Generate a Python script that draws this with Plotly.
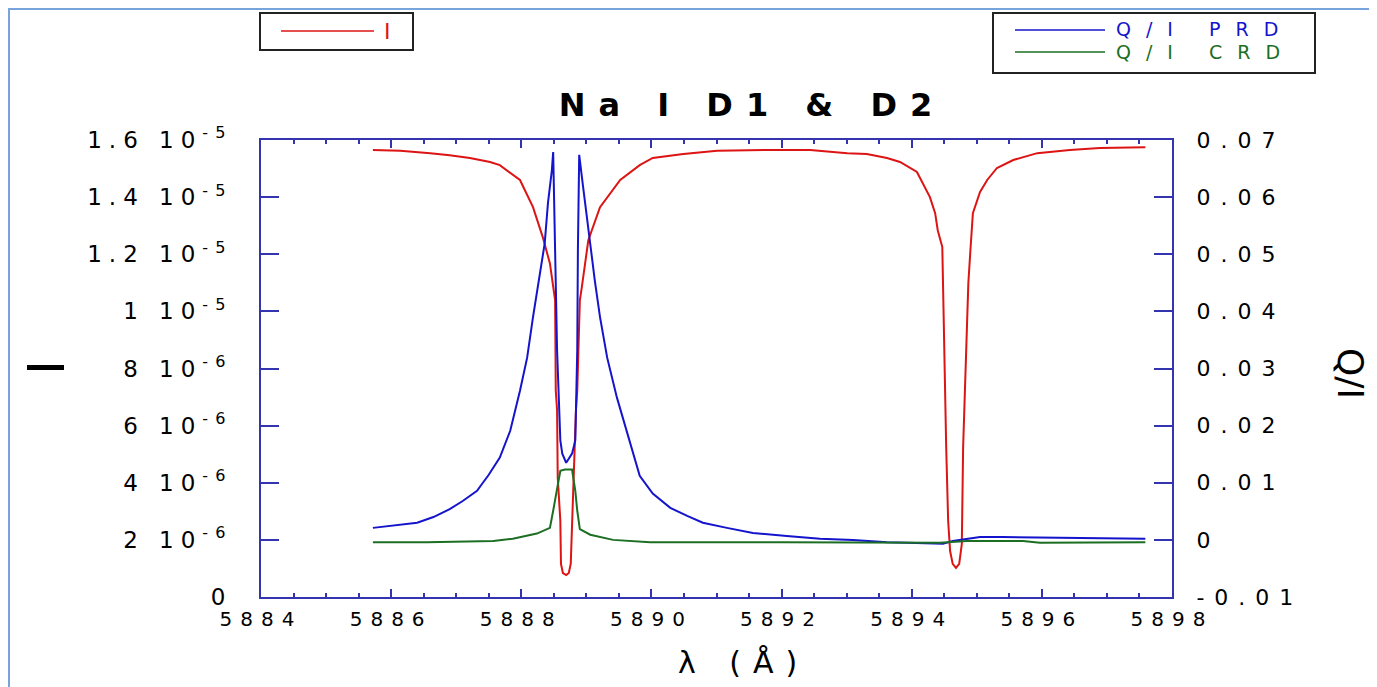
import plotly.graph_objects as go

# ---------------- data ----------------
# Intensity I (left axis)
wl_I = [5885.72, 5886.14, 5886.60, 5886.90, 5887.21, 5887.52, 5887.67, 5887.98, 5888.18, 5888.33,
        5888.44, 5888.49, 5888.52, 5888.53, 5888.55, 5888.56, 5888.60, 5888.61, 5888.64, 5888.69,
        5888.73, 5888.76, 5888.78, 5888.81, 5888.84, 5888.86, 5888.90, 5888.93, 5889.03, 5889.21,
        5889.52, 5889.82, 5890.02, 5890.49, 5891.01, 5891.78, 5892.44, 5893.01, 5893.31, 5893.62,
        5893.82, 5894.08, 5894.17, 5894.28, 5894.36, 5894.40, 5894.47, 5894.48, 5894.50, 5894.53,
        5894.56, 5894.59, 5894.63, 5894.68, 5894.73, 5894.77, 5894.79, 5894.83, 5894.87, 5894.90,
        5894.94, 5895.05, 5895.16, 5895.31, 5895.56, 5895.93, 5896.43, 5896.89, 5897.59]
intensity = [15.65e-6, 15.62e-6, 15.54e-6, 15.47e-6, 15.37e-6, 15.23e-6, 15.12e-6, 14.60e-6, 13.65e-6, 12.60e-6,
             11.68e-6, 10.84e-6, 10.39e-6, 7.23e-6, 6.53e-6, 4.18e-6, 2.67e-6, 1.16e-6, 0.84e-6, 0.77e-6,
             0.84e-6, 1.16e-6, 2.67e-6, 4.18e-6, 6.53e-6, 7.23e-6, 10.39e-6, 10.84e-6, 12.49e-6, 13.65e-6,
             14.60e-6, 15.12e-6, 15.37e-6, 15.51e-6, 15.62e-6, 15.65e-6, 15.65e-6, 15.54e-6, 15.51e-6, 15.37e-6,
             15.23e-6, 14.88e-6, 14.49e-6, 14.00e-6, 13.44e-6, 12.84e-6, 12.25e-6, 10.98e-6, 8.39e-6, 5.23e-6,
             2.67e-6, 1.61e-6, 1.16e-6, 1.02e-6, 1.16e-6, 1.86e-6, 5.23e-6, 8.39e-6, 10.98e-6, 12.07e-6,
             13.44e-6, 14.18e-6, 14.60e-6, 15.02e-6, 15.30e-6, 15.54e-6, 15.65e-6, 15.72e-6, 15.75e-6]

# Q/I with partial redistribution (right axis)
wl_prd = [5885.72, 5886.06, 5886.40, 5886.65, 5886.90, 5887.10, 5887.32, 5887.41, 5887.50, 5887.67,
          5887.83, 5887.98, 5888.09, 5888.18, 5888.29, 5888.36, 5888.41, 5888.47, 5888.49, 5888.52,
          5888.55, 5888.60, 5888.63, 5888.69, 5888.78, 5888.83, 5888.86, 5888.87, 5888.89, 5888.95,
          5889.03, 5889.13, 5889.21, 5889.32, 5889.47, 5889.62, 5889.78, 5889.82, 5890.02, 5890.29,
          5890.55, 5890.79, 5891.16, 5891.56, 5892.08, 5892.59, 5893.10, 5893.62, 5893.93, 5894.33,
          5894.48, 5894.63, 5894.85, 5895.05, 5895.40, 5895.97, 5896.89, 5897.59]
q_prd = [0.0021, 0.0025, 0.0030, 0.0040, 0.0054, 0.0068, 0.0086, 0.0100, 0.0114, 0.0144,
         0.0191, 0.0261, 0.0319, 0.0390, 0.0472, 0.0519, 0.0590, 0.0647, 0.0679, 0.0507,
         0.0332, 0.0174, 0.0151, 0.0135, 0.0151, 0.0174, 0.0332, 0.0507, 0.0674, 0.0618,
         0.0542, 0.0454, 0.0390, 0.0319, 0.0249, 0.0191, 0.0128, 0.0112, 0.0081, 0.0056,
         0.0042, 0.0030, 0.0021, 0.0012, 0.0007, 0.0002, 0.0000, -0.0004, -0.0005, -0.0007,
         -0.0007, -0.0002, 0.0002, 0.0005, 0.0005, 0.0004, 0.0002, 0.0002]

# Q/I with complete redistribution (right axis)
wl_crd = [5885.72, 5886.55, 5887.57, 5887.87, 5888.24, 5888.44, 5888.49, 5888.55, 5888.60, 5888.67,
          5888.78, 5888.83, 5888.86, 5888.90, 5889.06, 5889.41, 5889.98, 5892.00, 5894.43, 5894.85,
          5895.71, 5895.97, 5897.59]
q_crd = [-0.0004, -0.0004, -0.0002, 0.0002, 0.0011, 0.0021, 0.0051, 0.0086, 0.0121, 0.0123,
         0.0123, 0.0086, 0.0051, 0.0019, 0.0009, 0.0000, -0.0004, -0.0004, -0.0005, -0.0002,
         -0.0002, -0.0005, -0.0004]

# tick labels
x_tickvals = [5884, 5886, 5888, 5890, 5892, 5894, 5896, 5898]
x_ticklabels = ["5884", "5886", "5888", "5890", "5892", "5894", "5896", "5898"]
y_tickvals = [0, 2e-6, 4e-6, 6e-6, 8e-6, 1e-5, 1.2e-5, 1.4e-5, 1.6e-5]
y_ticklabels = ["0", "2 10<sup>-6</sup>", "4 10<sup>-6</sup>", "6 10<sup>-6</sup>", "8 10<sup>-6</sup>",
                "1 10<sup>-5</sup>", "1.2 10<sup>-5</sup>", "1.4 10<sup>-5</sup>", "1.6 10<sup>-5</sup>"]
y2_tickvals = [-0.01, 0, 0.01, 0.02, 0.03, 0.04, 0.05, 0.06, 0.07]
y2_ticklabels = ["-0.01", "0", "0.01", "0.02", "0.03", "0.04", "0.05", "0.06", "0.07"]

series_names = ["I", "Q/I PRD", "Q/I CRD"]

# ---------------- style ----------------
FONT = "DejaVu Sans, Liberation Sans, Arial, sans-serif"
RED = "#dd1414"
BLUE = "#1414cc"
GREEN = "#1c6e22"
AXC = "#3434b0"
PINK = "#fddaf4"
BORDER = "#78a4de"

# page pixels -> paper coords (page is offset by 8px body margin)
L, R, T, B = 261, 1172, 140, 597


def PX(xp):
    return (xp - L) / (R - L)


def PY(yp):
    return (B - yp) / (B - T)


def sp(text, px, color=None):
    style = f"letter-spacing:{px}px"
    if color:
        style += f";color:{color}"
    return f'<span style="{style}">{text}</span>'


fig = go.Figure()
fig.add_trace(go.Scatter(x=wl_I, y=intensity, mode="lines", name=series_names[0],
                         line=dict(color=RED, width=2)))
fig.add_trace(go.Scatter(x=wl_prd, y=q_prd, mode="lines", name=series_names[1],
                         line=dict(color=BLUE, width=2), yaxis="y2"))
fig.add_trace(go.Scatter(x=wl_crd, y=q_crd, mode="lines", name=series_names[2],
                         line=dict(color=GREEN, width=2), yaxis="y2"))

shapes = [
    # white panel with light-blue border on the pink page
    dict(type="rect", xref="paper", yref="paper", layer="below",
         x0=PX(9), x1=PX(1420), y0=PY(720), y1=PY(9),
         fillcolor="white", line=dict(color=BORDER, width=2)),
    # legend boxes
    dict(type="rect", xref="paper", yref="paper", x0=PX(260), x1=PX(413), y0=PY(50), y1=PY(13),
         fillcolor="white", line=dict(color="#222222", width=2)),
    dict(type="rect", xref="paper", yref="paper", x0=PX(993), x1=PX(1315), y0=PY(73), y1=PY(13),
         fillcolor="white", line=dict(color="#222222", width=2)),
    # legend sample lines
    dict(type="line", xref="paper", yref="paper", x0=PX(281), x1=PX(374), y0=PY(31), y1=PY(31),
         line=dict(color=RED, width=1.5)),
    dict(type="line", xref="paper", yref="paper", x0=PX(1015), x1=PX(1105), y0=PY(30), y1=PY(30),
         line=dict(color=BLUE, width=1.5)),
    dict(type="line", xref="paper", yref="paper", x0=PX(1015), x1=PX(1105), y0=PY(52), y1=PY(52),
         line=dict(color=GREEN, width=1.5)),
]

annotations = [
    # legend labels
    dict(text=sp(series_names[0], 3), x=PX(382), y=PY(31), xref="paper", yref="paper",
         showarrow=False, xanchor="left", yanchor="middle",
         font=dict(family=FONT, size=22, color=RED)),
    dict(text=sp(series_names[1], 15), x=PX(1114), y=PY(29), xref="paper", yref="paper",
         showarrow=False, xanchor="left", yanchor="middle",
         font=dict(family=FONT, size=19, color=BLUE)),
    dict(text=sp(series_names[2], 15), x=PX(1114), y=PY(52), xref="paper", yref="paper",
         showarrow=False, xanchor="left", yanchor="middle",
         font=dict(family=FONT, size=19, color=GREEN)),
    # axis titles
    dict(text=sp("λ (Å)", 12), x=PX(743), y=PY(662), xref="paper", yref="paper",
         showarrow=False, xanchor="center", yanchor="middle",
         font=dict(family=FONT, size=30, color="black")),
    dict(text="I", textangle=-90, x=PX(45), y=PY(368), xref="paper", yref="paper",
         showarrow=False, xanchor="center", yanchor="middle",
         font=dict(family="Liberation Sans, Arial, sans-serif", size=54, color="black")),
    dict(text="Q/I", textangle=90, x=PX(1351), y=PY(373), xref="paper", yref="paper",
         showarrow=False, xanchor="center", yanchor="middle",
         font=dict(family=FONT, size=36, color="black")),
]

fig.update_layout(
    width=1369, height=679,
    margin=dict(l=253, r=205, t=132, b=90, autoexpand=False),
    paper_bgcolor=PINK, plot_bgcolor="white",
    font=dict(family=FONT, color="black"),
    showlegend=False,
    title=dict(text="<b>" + sp("Na I D1 & D2", 13) + "</b>", x=PX(752), xref="paper", xanchor="center",
               y=1 - 97 / 679, yref="container", yanchor="middle",
               font=dict(family=FONT, size=32, color="black")),
    xaxis=dict(range=[5884, 5898], tickmode="array", tickvals=x_tickvals,
               ticktext=[sp(t, 8) for t in x_ticklabels],
               ticks="inside", ticklen=8, tickwidth=2, tickcolor=AXC,
               minor=dict(tickmode="linear", tick0=5884, dtick=0.5, ticks="inside", ticklen=4,
                          tickwidth=2, tickcolor=AXC, showgrid=False),
               showline=True, linecolor=AXC, linewidth=2, mirror="ticks",
               showgrid=False, zeroline=False, ticklabelstandoff=3,
               tickfont=dict(family=FONT, size=20, color="black")),
    yaxis=dict(range=[0, 1.6e-5], tickmode="array", tickvals=y_tickvals,
               ticktext=[sp(t, 7) for t in y_ticklabels],
               ticks="inside", ticklen=18, tickwidth=2, tickcolor=AXC,
               showline=True, linecolor=AXC, linewidth=2,
               showgrid=False, zeroline=False, ticklabelstandoff=22,
               tickfont=dict(family=FONT, size=23, color="black")),
    yaxis2=dict(range=[-0.01, 0.07], overlaying="y", side="right", tickmode="array",
                tickvals=y2_tickvals, ticktext=[sp(t, 10) for t in y2_ticklabels],
                ticks="inside", ticklen=18, tickwidth=2, tickcolor=AXC,
                showline=True, linecolor=AXC, linewidth=2,
                showgrid=False, zeroline=False, ticklabelstandoff=18,
                tickfont=dict(family=FONT, size=22, color="black")),
    shapes=shapes,
    annotations=annotations,
)

fig.write_html("out.html")
